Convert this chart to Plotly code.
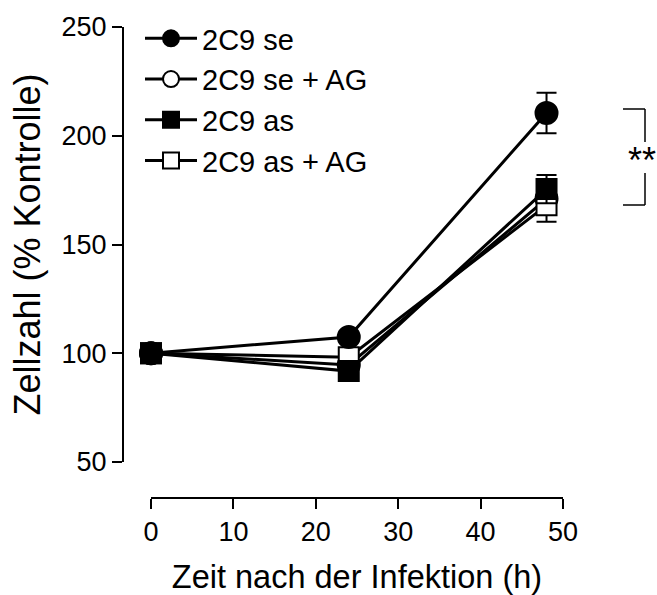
import plotly.graph_objects as go

time_h = [0, 24, 48]
se = [100, 107.5, 210.5]
se_err = [0, 2, 9.3]
se_ag = [100, 94.6, 171]
se_ag_err = [0, 2, 7]
as_ = [100, 91.8, 175.5]
as_err = [0, 2, 6.5]
as_ag = [100, 98.2, 168]
as_ag_err = [0, 2, 7.5]

names = ["2C9 se", "2C9 se + AG", "2C9 as", "2C9 as + AG"]
FONT = "Arial, Liberation Sans, sans-serif"

fig = go.Figure()

def add(name, y, err, symbol, fill, size, rank):
    fig.add_trace(go.Scatter(
        x=time_h, y=y, name=name, mode="lines+markers",
        line=dict(color="black", width=3),
        marker=dict(symbol=symbol, size=size, color=fill,
                    line=dict(color="black", width=2)),
        error_y=dict(type="data", array=err, color="black", thickness=2, width=10),
        legendrank=rank, legendgroup=name, cliponaxis=False,
    ))

add(names[1], se_ag, se_ag_err, "circle", "white", 22, 2)
add(names[3], as_ag, as_ag_err, "square", "white", 20, 4)
add(names[2], as_, as_err, "square", "black", 20, 3)
add(names[0], se, se_err, "circle", "black", 22, 1)

W, H = 657, 595
L, R, T, B = 123, 94, 27, 97
pw, ph = W - L - R, H - T - B

def px(xp):
    return (xp - L) / pw

def py(yp):
    return (H - B - yp) / ph

fig.update_layout(
    width=W, height=H,
    margin=dict(l=L, r=R, t=T, b=B, autoexpand=False),
    paper_bgcolor="white", plot_bgcolor="white",
    font=dict(family=FONT, color="black", size=27),
    showlegend=True,
    legend=dict(x=px(140), y=py(13), xanchor="left", yanchor="top",
                font=dict(size=29, family=FONT), bgcolor="rgba(0,0,0,0)",
                itemwidth=52, tracegroupgap=0, itemsizing="trace",
                traceorder="grouped"),
    xaxis=dict(domain=[px(151), 1], range=[0, 50], anchor="free", position=0,
               tickvals=[0, 10, 20, 30, 40, 50], ticks="outside", ticklen=10,
               tickwidth=2, tickcolor="black", showline=True, linewidth=2,
               linecolor="black", showgrid=False, zeroline=False,
               tickfont=dict(size=27),
               title=dict(text="Zeit nach der Infektion (h)", font=dict(size=32.5),
                          standoff=20)),
    yaxis=dict(domain=[py(462), 1], range=[50, 250], anchor="free", position=0,
               tickvals=[50, 100, 150, 200, 250], ticks="outside", ticklen=10,
               tickwidth=2, tickcolor="black", showline=True, linewidth=2,
               linecolor="black", showgrid=False, zeroline=False,
               tickfont=dict(size=27),
               title=dict(text="Zellzahl (% Kontrolle)", font=dict(size=36),
                          standoff=9)),
)

# significance bracket
lw = dict(color="black", width=1.5)
x1, x2 = px(623), px(645)
yt, yb = py(109), py(205)
fig.add_shape(type="line", xref="paper", yref="paper", x0=x1, x1=x2, y0=yt, y1=yt, line=lw)
fig.add_shape(type="line", xref="paper", yref="paper", x0=x2, x1=x2, y0=yt, y1=py(142), line=lw)
fig.add_shape(type="line", xref="paper", yref="paper", x0=x2, x1=x2, y0=py(173), y1=yb, line=lw)
fig.add_shape(type="line", xref="paper", yref="paper", x0=x1, x1=x2, y0=yb, y1=yb, line=lw)
fig.add_annotation(text="**", xref="paper", yref="paper", x=px(642), y=py(160),
                   showarrow=False, font=dict(size=36, family=FONT),
                   xanchor="center", yanchor="middle")

fig.write_html("out.html")
